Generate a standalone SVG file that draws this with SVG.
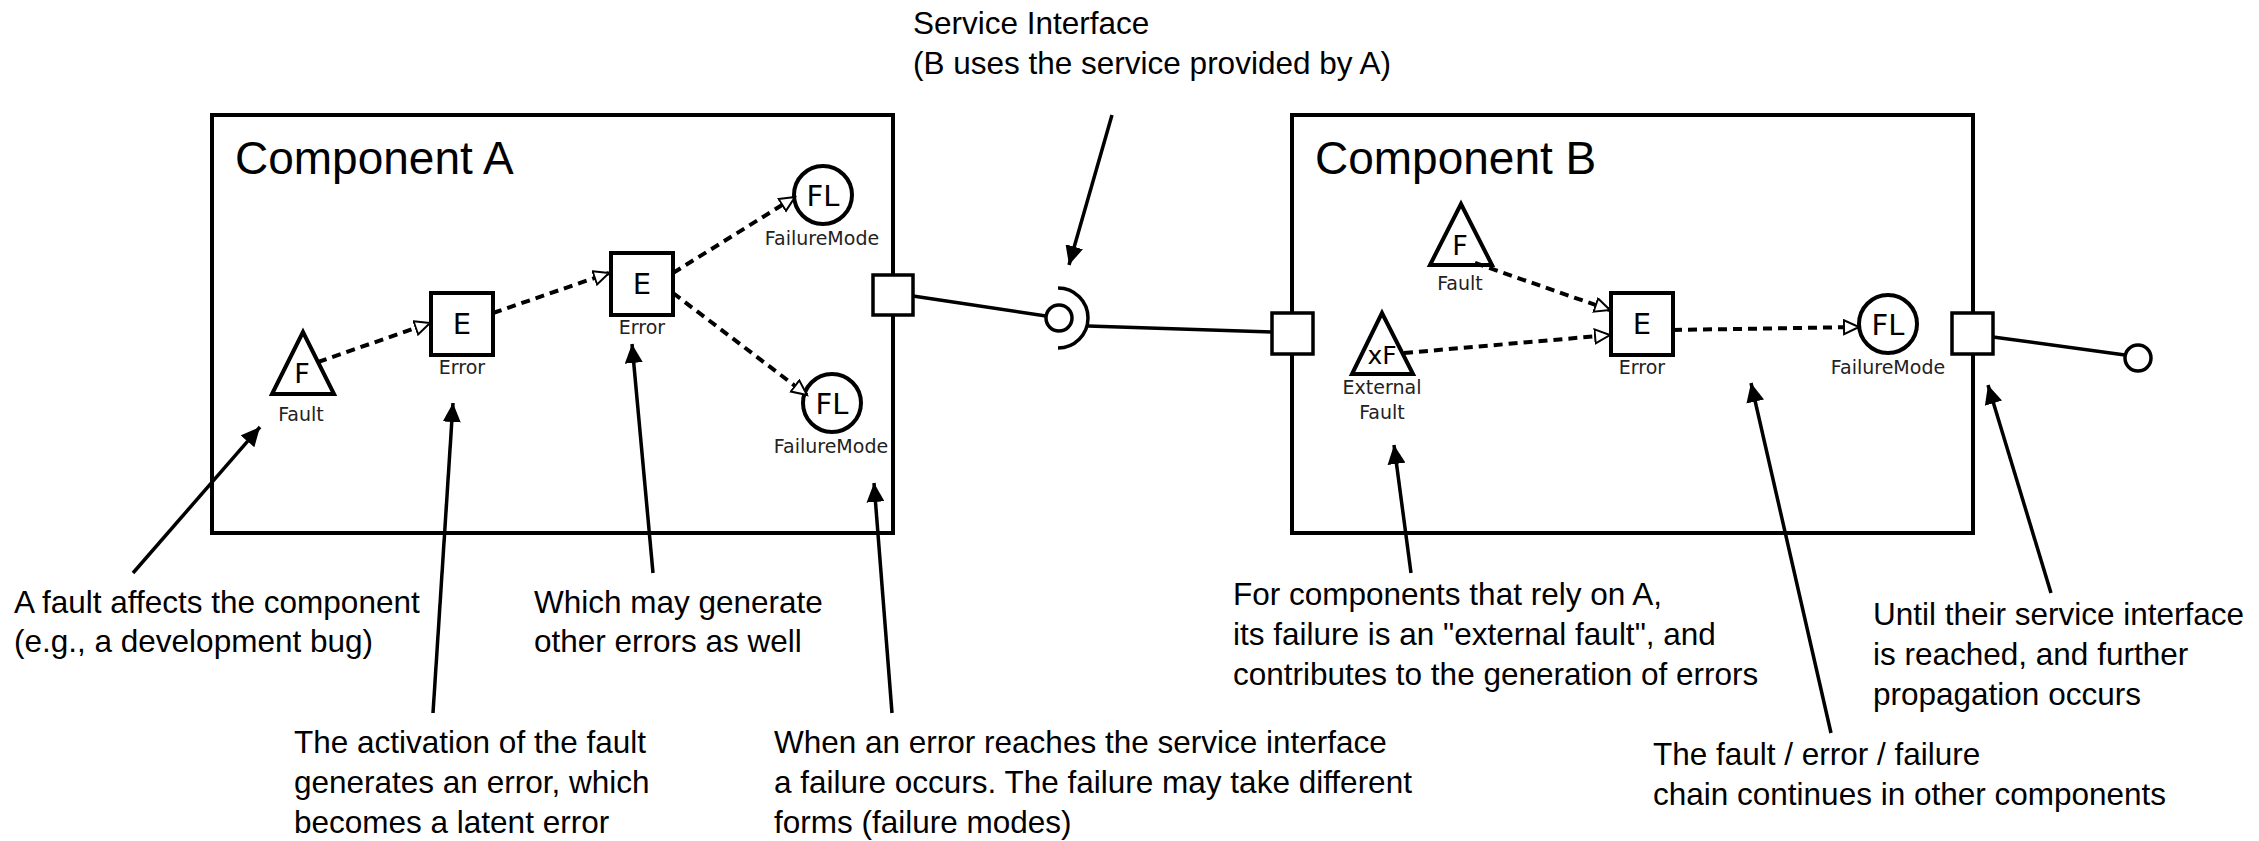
<svg xmlns="http://www.w3.org/2000/svg" width="2259" height="841" viewBox="0 0 2259 841">
  <style>
    .box { fill: none; stroke: #000; stroke-width: 4; }
    .shape { fill: #fff; stroke: #000; stroke-width: 4; }
    .port { fill: #fff; stroke: #000; stroke-width: 3.5; }
    .wire { fill: none; stroke: #000; stroke-width: 3.5; }
    .flow { fill: none; stroke: #000; stroke-width: 4; stroke-dasharray: 9 6; marker-end: url(#hollow); }
    .note { fill: none; stroke: #000; stroke-width: 3.5; marker-end: url(#solid); }
    .title { font-family: "Liberation Sans", Arial, sans-serif; font-size: 46px; fill: #000; }
    .sym { font-family: "DejaVu Sans", sans-serif; font-size: 29px; fill: #000; text-anchor: middle; }
    .symsm { font-family: "DejaVu Sans", sans-serif; font-size: 27px; fill: #000; text-anchor: middle; }
    .lbl { font-family: "DejaVu Sans", sans-serif; font-size: 19px; fill: #222; text-anchor: middle; }
    .txt { font-family: "Liberation Sans", Arial, sans-serif; font-size: 31.5px; fill: #000; }
  </style>
  <defs>
    <marker id="hollow" markerUnits="userSpaceOnUse" markerWidth="20" markerHeight="18" refX="16" refY="8" orient="auto">
      <path d="M1,1 L16,8 L1,15 z" fill="#fff" stroke="#000" stroke-width="2" stroke-dasharray="none"/>
    </marker>
    <marker id="solid" markerUnits="userSpaceOnUse" markerWidth="20" markerHeight="18" refX="19" refY="9" orient="auto">
      <path d="M0,0 L19,9 L0,18 z" fill="#000"/>
    </marker>
  </defs>

  <!-- Component A -->
  <g id="componentA">
    <rect class="box" x="212" y="115" width="681" height="418"/>
    <text class="title" x="235" y="174">Component A</text>
  </g>
  <g id="faultA">
    <polygon class="shape" points="303,332 272,394 334,394"/>
    <text class="symsm" x="302" y="383">F</text>
    <text class="lbl" x="301" y="421">Fault</text>
  </g>
  <g id="errorA1">
    <rect class="shape" x="431" y="293" width="62" height="62"/>
    <text class="sym" x="462" y="334">E</text>
    <text class="lbl" x="462" y="374">Error</text>
  </g>
  <g id="errorA2">
    <rect class="shape" x="611" y="253" width="62" height="62"/>
    <text class="sym" x="642" y="294">E</text>
    <text class="lbl" x="642" y="334">Error</text>
  </g>
  <g id="failureA1">
    <circle class="shape" cx="823" cy="195" r="29"/>
    <text class="sym" x="823" y="206">FL</text>
    <text class="lbl" x="822" y="245">FailureMode</text>
  </g>
  <g id="failureA2">
    <circle class="shape" cx="832" cy="403" r="29"/>
    <text class="sym" x="832" y="414">FL</text>
    <text class="lbl" x="831" y="453">FailureMode</text>
  </g>
  <g id="portA">
    <rect class="port" x="873" y="275" width="40" height="40"/>
  </g>

  <!-- Service interface between A and B -->
  <g id="serviceInterface">
    <circle class="port" cx="1059" cy="318" r="13"/>
    <path class="wire" d="M1058,288 A30,30 0 0 1 1058,348"/>
  </g>

  <!-- Component B -->
  <g id="componentB">
    <rect class="box" x="1292" y="115" width="681" height="418"/>
    <text class="title" x="1315" y="174">Component B</text>
  </g>
  <g id="portBin">
    <rect class="port" x="1272" y="313" width="41" height="41"/>
  </g>
  <g id="faultB">
    <polygon class="shape" points="1461,204 1430,265 1492,265"/>
    <text class="symsm" x="1460" y="255">F</text>
    <text class="lbl" x="1460" y="290">Fault</text>
  </g>
  <g id="externalFaultB">
    <polygon class="shape" points="1382,313 1352,374 1413,374"/>
    <text class="symsm" x="1382" y="364" style="font-size:25px">xF</text>
    <text class="lbl" x="1382" y="394">External</text>
    <text class="lbl" x="1382" y="419">Fault</text>
  </g>
  <g id="errorB">
    <rect class="shape" x="1611" y="293" width="62" height="62"/>
    <text class="sym" x="1642" y="334">E</text>
    <text class="lbl" x="1642" y="374">Error</text>
  </g>
  <g id="failureB">
    <circle class="shape" cx="1888" cy="324" r="29"/>
    <text class="sym" x="1888" y="335">FL</text>
    <text class="lbl" x="1888" y="374">FailureMode</text>
  </g>
  <g id="portBout">
    <rect class="port" x="1952" y="313" width="41" height="41"/>
  </g>
  <g id="nextInterface">
    <circle class="port" cx="2138" cy="358" r="13"/>
  </g>

  <!-- Connectors -->
  <g id="connectors">
    <line class="wire" x1="913" y1="296" x2="1046" y2="316"/>
    <line class="wire" x1="1088" y1="326" x2="1272" y2="332"/>
    <line class="wire" x1="1993" y1="337" x2="2125" y2="355"/>

    <line class="flow" x1="318" y1="362" x2="430" y2="323"/>
    <line class="flow" x1="493" y1="313" x2="609" y2="273"/>
    <line class="flow" x1="673" y1="273" x2="795" y2="197"/>
    <line class="flow" x1="673" y1="293" x2="807" y2="395"/>

    <line class="flow" x1="1475" y1="263" x2="1610" y2="310"/>
    <line class="flow" x1="1404" y1="353" x2="1610" y2="335"/>
    <line class="flow" x1="1673" y1="330" x2="1859" y2="327"/>

    <line class="note" x1="133" y1="573" x2="260" y2="427"/>
    <line class="note" x1="433" y1="713" x2="453" y2="403"/>
    <line class="note" x1="653" y1="573" x2="632" y2="344"/>
    <line class="note" x1="892" y1="713" x2="874" y2="483"/>
    <line class="note" x1="1112" y1="115" x2="1069" y2="265"/>
    <line class="note" x1="1411" y1="573" x2="1394" y2="445"/>
    <line class="note" x1="1831" y1="733" x2="1751" y2="383"/>
    <line class="note" x1="2051" y1="593" x2="1988" y2="385"/>
  </g>

  <!-- Explanatory notes -->
  <g id="notes">
    <text class="txt" x="913" y="34">Service Interface</text>
    <text class="txt" x="913" y="74">(B uses the service provided by A)</text>

    <text class="txt" x="14" y="613">A fault affects the component</text>
    <text class="txt" x="14" y="652">(e.g., a development bug)</text>

    <text class="txt" x="534" y="613">Which may generate</text>
    <text class="txt" x="534" y="652">other errors as well</text>

    <text class="txt" x="294" y="753">The activation of the fault</text>
    <text class="txt" x="294" y="793">generates an error, which</text>
    <text class="txt" x="294" y="833">becomes a latent error</text>

    <text class="txt" x="774" y="753">When an error reaches the service interface</text>
    <text class="txt" x="774" y="793">a failure occurs. The failure may take different</text>
    <text class="txt" x="774" y="833">forms (failure modes)</text>

    <text class="txt" x="1233" y="605">For components that rely on A,</text>
    <text class="txt" x="1233" y="645">its failure is an "external fault", and</text>
    <text class="txt" x="1233" y="685">contributes to the generation of errors</text>

    <text class="txt" x="1653" y="765">The fault / error / failure</text>
    <text class="txt" x="1653" y="805">chain continues in other components</text>

    <text class="txt" x="1873" y="625">Until their service interface</text>
    <text class="txt" x="1873" y="665">is reached, and further</text>
    <text class="txt" x="1873" y="705">propagation occurs</text>
  </g>
</svg>
